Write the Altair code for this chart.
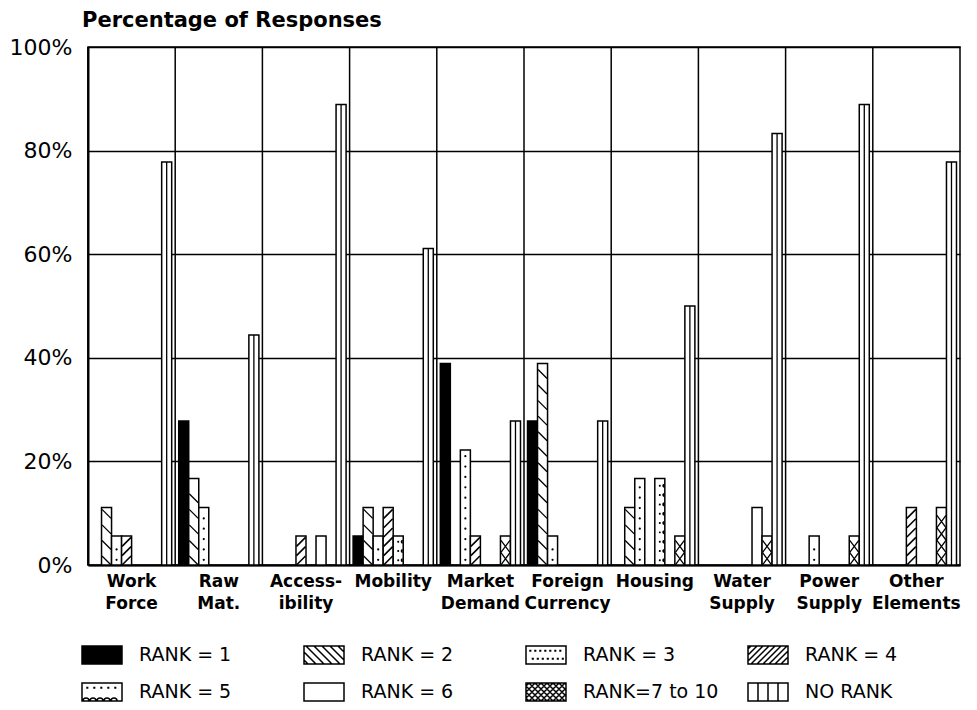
import altair as alt
import pandas as pd

# ---------------- data ----------------
categories = ["Work|Force", "Raw|Mat.", "Access-|ibility", "Mobility", "Market|Demand",
              "Foreign|Currency", "Housing", "Water|Supply", "Power|Supply", "Other|Elements"]
series = ["RANK = 1", "RANK = 2", "RANK = 3", "RANK = 4",
          "RANK = 5", "RANK = 6", "RANK=7 to 10", "NO RANK"]

rank1 = [0, 27.8, 0, 5.6, 38.9, 27.8, 0, 0, 0, 0]
rank2 = [11.1, 16.7, 0, 11.1, 0, 38.9, 11.1, 0, 0, 0]
rank3 = [5.6, 11.1, 0, 5.6, 22.2, 5.6, 16.7, 0, 5.6, 0]
rank4 = [5.6, 0, 5.6, 11.1, 5.6, 0, 0, 0, 0, 11.1]
rank5 = [0, 0, 0, 5.6, 0, 0, 16.7, 0, 0, 0]
rank6 = [0, 0, 5.6, 0, 0, 0, 0, 11.1, 0, 0]
rank7_10 = [0, 0, 0, 0, 5.6, 0, 5.6, 5.6, 5.6, 11.1]
no_rank = [77.8, 44.4, 88.9, 61.1, 27.8, 27.8, 50.0, 83.3, 88.9, 77.8]

y_ticks = [0, 20, 40, 60, 80, 100]

all_values = [rank1, rank2, rank3, rank4, rank5, rank6, rank7_10, no_rank]
rows = []
for s, vals in zip(series, all_values):
    for c, v in zip(categories, vals):
        rows.append({"category": c, "series": s, "value": v})
df = pd.DataFrame(rows)

# ---------------- legend swatch paths (style only) ----------------
X0, X1, Y0, Y1 = -1.0, 3.0, -0.9, 0.9
RECT = f"M{X0},{Y0}H{X1}V{Y1}H{X0}Z"


def diag_lines(kind, spacing):
    segs = []
    if kind == "/":
        c = X0 + Y0 + spacing / 2
        while c < X1 + Y1:
            xa, xb = max(X0, c - Y1), min(X1, c - Y0)
            if xb - xa > 0.05:
                segs.append(f"M{xa:.3f},{c - xa:.3f}L{xb:.3f},{c - xb:.3f}")
            c += spacing
    else:
        c = X0 - Y1 + spacing / 2
        while c < X1 - Y0:
            xa, xb = max(X0, c + Y0), min(X1, c + Y1)
            if xb - xa > 0.05:
                segs.append(f"M{xa:.3f},{xa - c:.3f}L{xb:.3f},{xb - c:.3f}")
            c += spacing
    return "".join(segs)


def dots(xs, ys):
    return "".join(f"M{x:.2f},{y:.2f}h0.06v0.06h-0.06Z" for x in xs for y in ys)


sw_r2 = RECT + diag_lines("\\", 0.8)
sw_r3 = RECT + dots([-0.6, -0.1, 0.4, 0.9, 1.4, 1.9, 2.4], [-0.45]) + dots([-0.35, 0.15, 0.65, 1.15, 1.65, 2.15, 2.65], [0.35])
sw_r4 = RECT + diag_lines("/", 0.6)
sw_r5 = RECT + dots([-0.5, 0.2, 0.9, 1.6, 2.3], [-0.45]) + "".join(
    f"M{x - 0.3:.2f},0.9A0.3,0.3 0 0 1 {x + 0.3:.2f},0.9" for x in [-0.6, 0.1, 0.8, 1.5, 2.2])
sw_r7 = RECT + diag_lines("/", 0.6) + diag_lines("\\", 0.6)
sw_no = RECT + "M0,-0.9V0.9M1,-0.9V0.9M2,-0.9V0.9"
swatches = [RECT, sw_r2, sw_r3, sw_r4, sw_r5, RECT, sw_r7, sw_no]
swatch_fill = ["black", "white", "white", "white", "white", "white", "white", "white"]
swatch_stroke = ["black"] * 8

# ---------------- shared encodings ----------------
x_scale = alt.Scale(domain=categories, paddingInner=0, paddingOuter=0)
x_axis = alt.Axis(title=None, labelExpr="split(datum.label, '|')", labelAngle=0,
                  labelFont="DejaVu Sans", labelFontWeight="bold", labelFontSize=17,
                  labelColor="black", labelLineHeight=22, labelPadding=8,
                  labelBaseline="top", ticks=False, grid=False,
                  domainColor="black", domainWidth=2)
x_enc = alt.X("category:N", sort=categories, scale=x_scale, axis=x_axis)
xo_enc = alt.XOffset("series:N", sort=series,
                     scale=alt.Scale(domain=series, paddingInner=0, paddingOuter=0.35))
y_scale = alt.Scale(domain=[0, 100], nice=False, zero=True)
y_axis = alt.Axis(values=y_ticks, labelExpr="datum.value + '%'", title=None,
                  grid=True, gridColor="black", gridWidth=1.5, gridOpacity=1,
                  domainColor="black", domainWidth=2, ticks=False,
                  labelFont="DejaVu Sans", labelFontSize=22, labelColor="black",
                  labelPadding=16)

base = alt.Chart(df)

vgrid = alt.Chart(pd.DataFrame({"category": categories})).mark_rule(
    color="black", strokeWidth=1.5).encode(
    x=alt.X("category:N", sort=categories, bandPosition=0, scale=x_scale, axis=x_axis))

bars = base.transform_filter("datum.value > 0").mark_bar(
    stroke="black", strokeWidth=1.5).encode(
    x=x_enc, xOffset=xo_enc,
    y=alt.Y("value:Q", scale=y_scale, axis=y_axis),
    fill=alt.condition("datum.series == 'RANK = 1'", alt.value("black"), alt.value("white")))

stripes = base.transform_filter("datum.series == 'NO RANK' && datum.value > 0").mark_rule(
    color="black", strokeWidth=1.3).encode(
    x=x_enc, xOffset=xo_enc,
    y=alt.Y("value:Q", scale=y_scale, axis=y_axis), y2=alt.datum(0))


def pattern(sname, start, step, shape, size, filled, sw):
    return base.transform_filter(
        f"datum.series == '{sname}' && datum.value > 0"
    ).transform_calculate(
        pos=f"sequence({start}, datum.value - {start} + 0.01, {step})"
    ).transform_flatten(["pos"]).mark_point(
        shape=shape, size=size, filled=filled, color="black", opacity=1, strokeWidth=sw
    ).encode(x=x_enc, xOffset=xo_enc, y=alt.Y("pos:Q", scale=y_scale, axis=y_axis))


p_r2 = pattern("RANK = 2", 0.87, 3.0, "M-1,-1L1,1", 81, False, 1.3)
p_r3 = pattern("RANK = 3", 1.0, 2.0, "circle", 5, True, 0)
p_r4 = pattern("RANK = 4", 0.87, 1.8, "M-1,1L1,-1", 81, False, 1.6)
p_r5 = pattern("RANK = 5", 0.9, 1.8,
               "M1,-0.45A0.45,0.45 0 0 0 1,0.45Z M-0.22,0A0.22,0.22 0 1 0 0.22,0A0.22,0.22 0 1 0 -0.22,0Z",
               81, True, 0)
p_r7 = pattern("RANK=7 to 10", 1.2, 2.4, "M-1,-1.35L1,1.35M-1,1.35L1,-1.35", 81, False, 1.3)

legend_def = alt.Legend(
    title=None, orient="none", legendX=-7, legendY=597, columns=4, direction="horizontal",
    gridAlign="all", columnPadding=26, rowPadding=13, symbolSize=400,
    symbolStrokeWidth=1.5, symbolOffset=0,
    labelFont="DejaVu Sans", labelFontSize=19, labelColor="black", labelOffset=36,
    labelLimit=300, padding=0)

legend_layer = alt.Chart(pd.DataFrame({"series": series})).transform_filter("false").mark_point(
    filled=True, opacity=1, strokeWidth=1.5).encode(
    shape=alt.Shape("series:N", sort=series,
                    scale=alt.Scale(domain=series, range=swatches), legend=legend_def),
    fill=alt.Fill("series:N", sort=series,
                  scale=alt.Scale(domain=series, range=swatch_fill), legend=legend_def),
    stroke=alt.Stroke("series:N", sort=series,
                      scale=alt.Scale(domain=series, range=swatch_stroke), legend=legend_def))

chart = alt.layer(vgrid, bars, stripes, p_r2, p_r3, p_r4, p_r5, p_r7, legend_layer).properties(
    width=872, height=518,
    autosize=alt.AutoSizeParams(type="none"),
    padding={"left": 88, "top": 47, "right": 17, "bottom": 145},
    title=alt.TitleParams("Percentage of Responses", anchor="start", font="DejaVu Sans",
                          fontSize=21, fontWeight="bold", color="black", dx=-6, offset=5,
                          frame="group"),
    background="white",
).configure_view(stroke="black", strokeWidth=1.5)

chart.save("out.html", embed_options={"renderer": "svg", "actions": False})
